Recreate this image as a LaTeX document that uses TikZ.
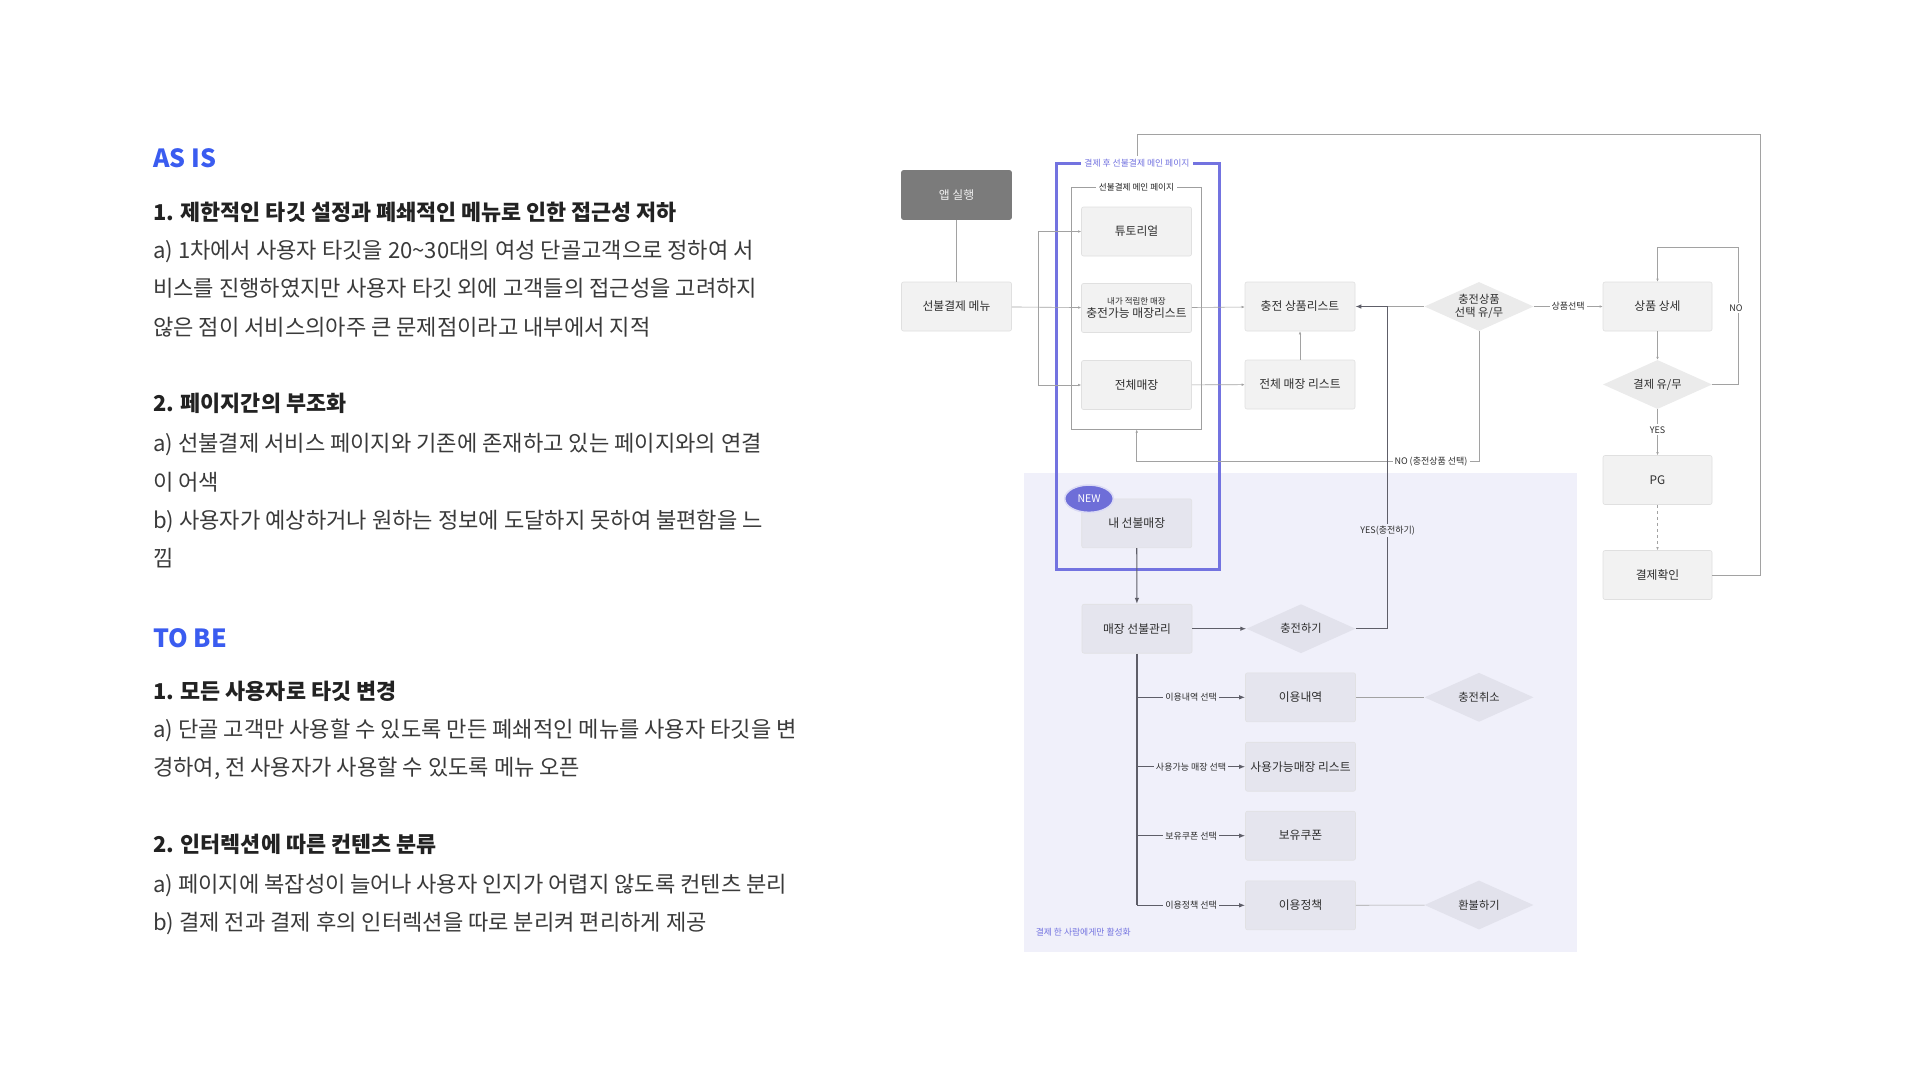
\documentclass[tikz,border=0pt]{standalone}
\usepackage{fontspec}
\setmainfont{Noto Sans CJK KR}
\usetikzlibrary{positioning,shapes.geometric,arrows.meta}

\definecolor{asblue}{HTML}{3A5CF0}
\definecolor{frameblue}{HTML}{7373E0}
\definecolor{newblue}{HTML}{6E6ED8}
\definecolor{boxfill}{HTML}{F2F2F2}
\definecolor{boxline}{HTML}{E0E0E0}
\definecolor{lavbg}{HTML}{F0F0FA}
\definecolor{lavfill}{HTML}{E5E5EE}
\definecolor{diafill}{HTML}{EBEBEB}
\definecolor{lavdia}{HTML}{E2E2EC}
\definecolor{appfill}{HTML}{7B7B7B}
\definecolor{bodytxt}{HTML}{3A3A3A}
\definecolor{headtxt}{HTML}{222222}
\definecolor{boxtxt}{HTML}{2E2E2E}
\definecolor{lightln}{HTML}{A2A2A2}
\definecolor{darkln}{HTML}{5E5E68}

\newcommand{\fsz}[2]{\fontsize{#1}{#2}\selectfont}

\tikzset{
  body/.style={anchor=base west, inner sep=0pt, text=bodytxt, font=\fsz{22.1}{26}},
  head/.style={body, text=headtxt, font=\fsz{21.8}{26}\bfseries},
  title/.style={body, text=asblue, font=\fsz{25}{29}\bfseries},
  box/.style={draw=boxline, fill=boxfill, rounded corners=2pt, line width=.6pt,
    minimum width=110pt, minimum height=49pt, inner sep=0pt, align=center,
    text=boxtxt, font=\fsz{11.8}{13}},
  lavbox/.style={box, fill=lavfill, draw=boxline!80!lavfill},
  appbox/.style={box, fill=appfill, draw=appfill, text=white!90!appfill},
  dia/.style={diamond, aspect=2.2, fill=diafill, draw=none, inner sep=0pt,
    minimum width=109pt, minimum height=49pt, align=center, text=boxtxt,
    font=\fsz{11.2}{13}},
  lavdiam/.style={dia, fill=lavdia},
  lbl/.style={inner sep=2pt, text=boxtxt, font=\fsz{9}{10}},
  lightline/.style={draw=lightln, line width=.6pt},
  lightconn/.style={lightline, -{Latex[length=3pt,width=2.6pt]}},
  darkline/.style={draw=darkln, line width=1.1pt},
  darkconn/.style={darkline, -{Latex[length=6pt,width=4.5pt]}},
}

\begin{document}
\begin{tikzpicture}[x=1pt,y=-1pt]
  \useasboundingbox[fill=white] (0,0) rectangle (1920,1080);

  % left column text (y = baseline)
  \node[title] (asis) at (153,167.3) {AS IS};
  \node[head] (h1) at (153,220) {1. 제한적인 타깃 설정과 폐쇄적인 메뉴로 인한 접근성 저하};
  \node[body] (a1) at (153,258.4) {a) 1차에서 사용자 타깃을 20\textasciitilde30대의 여성 단골고객으로 정하여 서};
  \node[body] (a2) at (153,296.7) {비스를 진행하였지만 사용자 타깃 외에 고객들의 접근성을 고려하지};
  \node[body] (a3) at (153,335.1) {않은 점이 서비스의아주 큰 문제점이라고 내부에서 지적};
  \node[head] (h2) at (153,411.6) {2. 페이지간의 부조화};
  \node[body] (b1) at (153,451.7) {a) 선불결제 서비스 페이지와 기존에 존재하고 있는 페이지와의 연결};
  \node[body] (b2) at (153,490.1) {이 어색};
  \node[body] (b3) at (153,528.4) {b) 사용자가 예상하거나 원하는 정보에 도달하지 못하여 불편함을 느};
  \node[body] (b4) at (153,566.7) {낌};
  \node[title] (tobe) at (153,647.3) {TO BE};
  \node[head] (h3) at (153,699) {1. 모든 사용자로 타깃 변경};
  \node[body] (c1) at (153,737.4) {a) 단골 고객만 사용할 수 있도록 만든 폐쇄적인 메뉴를 사용자 타깃을 변};
  \node[body] (c2) at (153,775.1) {경하여, 전 사용자가 사용할 수 있도록 메뉴 오픈};
  \node[head] (h4) at (153,852.6) {2. 인터렉션에 따른 컨텐츠 분류};
  \node[body] (c3) at (153,892.4) {a) 페이지에 복잡성이 늘어나 사용자 인지가 어렵지 않도록 컨텐츠 분리};
  \node[body] (c4) at (153,930.1) {b) 결제 전과 결제 후의 인터렉션을 따로 분리켜 편리하게 제공};

  % frames
  \fill[lavbg] (1024,473.3) rectangle (1577,951.7);
  \node[draw=frameblue, line width=3pt, minimum width=163pt, minimum height=406pt,
    inner sep=0pt] (bluefr) at (1137.5,366.4) {};
  \node[fill=white, inner sep=3pt, text=frameblue, font=\fsz{8.8}{10}] (bluelbl)
    at (1137,163.3) {결제 후 선불결제 메인 페이지};
  \node[draw=gray!75, line width=.6pt, minimum width=130pt, minimum height=241.6pt,
    inner sep=0pt] (inner) at (1136.7,308.5) {};
  \node[fill=white, inner sep=3pt, text=headtxt, font=\fsz{8.6}{10}] (innerlbl)
    at (1136.5,187.7) {선불결제 메인 페이지};
  \node[text=frameblue, font=\fsz{8.8}{10}, inner sep=0pt] (onlypaid)
    at (1083.3,932.3) {결제 한 사람에게만 활성화};

  % boxes
  \node[appbox] (app) at (956.5,195) {앱 실행};
  \node[box] (menu) at (956.5,306.5) {선불결제 메뉴};
  \node[box] (tut) at (1136.5,231.5) {튜토리얼};
  \node[box] (avail) at (1136.5,308) {{\fsz{8.5}{11}내가 적립한 매장}\\충전가능 매장리스트};
  \node[box] (allst) at (1136.5,385) {전체매장};
  \node[box] (prod) at (1300,306.5) {충전 상품리스트};
  \node[box] (alllist) at (1300,384.5) {전체 매장 리스트};
  \node[dia] (pick) at (1479,306.5) {충전상품\\선택 유/무};
  \node[box, minimum width=109pt] (detail) at (1657.5,306.5) {상품 상세};
  \node[dia] (paid) at (1657.5,384.5) {결제 유/무};
  \node[box, minimum width=109pt] (pg) at (1657.5,480) {PG};
  \node[box, minimum width=109pt] (done) at (1657.5,575) {결제확인};

  \node[lavbox] (mine) at (1136.7,523.3) {내 선불매장};
  \node[ellipse, fill=newblue, draw=white!75!newblue, line width=1.5pt,
    minimum width=48.6pt, minimum height=27.3pt, inner sep=0pt, text=white,
    font=\fsz{10.5}{11}] (new) at (1089,498.7) {NEW};
  \node[lavbox] (manage) at (1137,628.7) {매장 선불관리};
  \node[lavdiam] (charge) at (1301,628.7) {충전하기};
  \node[lavbox] (hist) at (1300.5,697.3) {이용내역};
  \node[lavbox] (usable) at (1300.5,766.7) {사용가능매장 리스트};
  \node[lavbox] (coupon) at (1300.5,835.7) {보유쿠폰};
  \node[lavbox] (policy) at (1300.5,905.3) {이용정책};
  \node[lavdiam] (cancel) at (1479,697.3) {충전취소};
  \node[lavdiam] (refund) at (1479,905) {환불하기};

  % connectors, upper part
  \coordinate (br1) at (1038.3,231.5);
  \coordinate (br2) at (1038.3,385);
  \coordinate (yj) at (1387.7,306.5);
  \coordinate (nobot) at (1478.8,461.7);
  \coordinate (noloop) at (1738,247.3);
  \coordinate (topright) at (1760,134.3);

  \draw[lightline] (app) -- (menu);
  \draw[lightconn] (menu) -- (avail);
  \draw[lightline] (br1) -- (br2);
  \draw[lightconn] (br1) -- (tut);
  \draw[lightconn] (br2) -- (allst);
  \draw[lightconn] (avail) -- (prod);
  \draw[lightconn] (allst) -- (alllist);
  \draw[lightconn] (alllist) -- (prod);
  \draw[lightline] (pick) -- (yj);
  \draw[lightconn] (pick) -- (detail) node[lbl, fill=white, midway] (picklbl) {상품선택};
  \draw[lightconn] (pick.south) |- (nobot) -| (inner.south);
  \node[lbl, fill=white] (nolbl) at (1431,461.7) {NO (충전상품 선택)};
  \draw[lightconn] (detail) -- (paid);
  \draw[lightconn] (paid.east) -| (noloop) -| (detail.north);
  \node[lbl, fill=white] (nolbl2) at (1736,308) {NO};
  \draw[lightconn] (paid) -- (pg) node[lbl, fill=white, pos=.45] (yeslbl) {YES};
  \draw[lightconn, dashed] (pg) -- (done);
  \draw[lightline] (done.east) -| (topright) -| (bluelbl.north);

  % connectors, lower part
  \draw[darkconn] (mine) -- (manage);
  \draw[darkconn] (manage) -- (charge);
  \draw[darkconn] (charge.east) -| (yj) -- (prod.east);
  \node[lbl, fill=lavbg] (yeslbl2) at (1387.7,530.7) {YES(충전하기)};
  \draw[darkline] (manage.south) -- (manage.south |- policy.west);
  \draw[darkconn] (manage.south |- hist.west) -- (hist.west)
    node[lbl, fill=lavbg, midway] (histlbl) {이용내역 선택};
  \draw[darkconn] (manage.south |- usable.west) -- (usable.west)
    node[lbl, fill=lavbg, midway] (usablelbl) {사용가능 매장 선택};
  \draw[darkconn] (manage.south |- coupon.west) -- (coupon.west)
    node[lbl, fill=lavbg, midway] (couponlbl) {보유쿠폰 선택};
  \draw[darkconn] (manage.south |- policy.west) -- (policy.west)
    node[lbl, fill=lavbg, midway] (policylbl) {이용정책 선택};
  \draw[lightline] (hist) -- (cancel);
  \draw[lightline] (policy) -- (refund);
\end{tikzpicture}
\end{document}
